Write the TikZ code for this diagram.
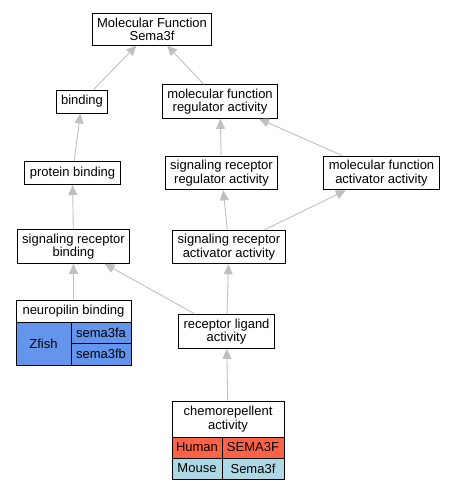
\documentclass[tikz,border=0pt]{standalone}
\usepackage{fontspec}
\setmainfont{Liberation Sans}
\usetikzlibrary{arrows.meta}
\definecolor{zfishblue}{HTML}{6495ED}
\definecolor{humanred}{HTML}{FF6347}
\definecolor{mouseblue}{HTML}{ADD8E6}
\definecolor{edgegray}{HTML}{C0C0C0}
\begin{document}
\begin{tikzpicture}[x=1pt, y=-1pt,
  every node/.style = {font=\fontsize{13}{13.5}\selectfont},
  term/.style = {shape=rectangle, draw, line width=1pt, align=center,
    fill=white, inner xsep=5pt, inner ysep=4pt, minimum height=23pt},
  cell/.style = {shape=rectangle, draw, line width=1pt, align=center,
    inner sep=0pt},
  edge/.style = {draw=edgegray, line width=0.9pt,
    -{Triangle[width=9pt,length=10pt,fill=edgegray]}}]
  \useasboundingbox (0,0) rectangle (455,491);
  \node[term] (MF) at (152,29.5) {Molecular Function\\ Sema3f};
  \node[term] (bind) at (82,101.5) {binding};
  \node[term] (MFreg) at (220,101.5) {molecular function\\ regulator activity};
  \node[term] (prot) at (72.5,173) {protein binding};
  \node[term] (SRreg) at (221.5,173) {signaling receptor\\ regulator activity};
  \node[term] (MFact) at (381.5,173) {molecular function\\ activator activity};
  \node[term] (SRbind) at (73.5,246.5) {signaling receptor\\ binding};
  \node[term] (SRact) at (229,247) {signaling receptor\\ activator activity};
  \node[term] (RLA) at (226.5,331.5) {receptor ligand\\ activity};

  % neuropilin binding table
  \node[cell, minimum width=115pt, minimum height=22pt] (NP) at (73.5,311) {neuropilin binding};
  \node[cell, fill=zfishblue, minimum width=55pt, minimum height=43pt] (zfish) at (43.5,343.5) {Zfish};
  \node[cell, fill=zfishblue, minimum width=60pt, minimum height=21pt] (fa) at (101,332.5) {sema3fa};
  \node[cell, fill=zfishblue, minimum width=60pt, minimum height=22pt] (fb) at (101,354) {sema3fb};

  % chemorepellent activity table
  \node[cell, minimum width=112pt, minimum height=36pt] (CR) at (228,419) {chemorepellent\\ activity};
  \node[cell, fill=humanred, minimum width=50pt, minimum height=21pt] (human) at (197,447.5) {Human};
  \node[cell, fill=humanred, minimum width=62pt, minimum height=21pt] (hgene) at (253,447.5) {SEMA3F};
  \node[cell, fill=mouseblue, minimum width=50pt, minimum height=21pt] (mouse) at (197,468.5) {Mouse};
  \node[cell, fill=mouseblue, minimum width=62pt, minimum height=21pt] (mgene) at (253,468.5) {Sema3f};

  \draw[edge] (bind) -- (MF);
  \draw[edge] (MFreg) -- (MF);
  \draw[edge] (prot) -- (bind);
  \draw[edge] (SRreg) -- (MFreg);
  \draw[edge] (MFact) -- (MFreg);
  \draw[edge] (SRbind) -- (prot);
  \draw[edge] (SRact) -- (SRreg);
  \draw[edge] (SRact) -- (MFact);
  \draw[edge] (NP) -- (SRbind);
  \draw[edge] (RLA) -- (SRbind);
  \draw[edge] (RLA) -- (SRact);
  \draw[edge] (CR) -- (RLA);

\end{tikzpicture}
\end{document}
